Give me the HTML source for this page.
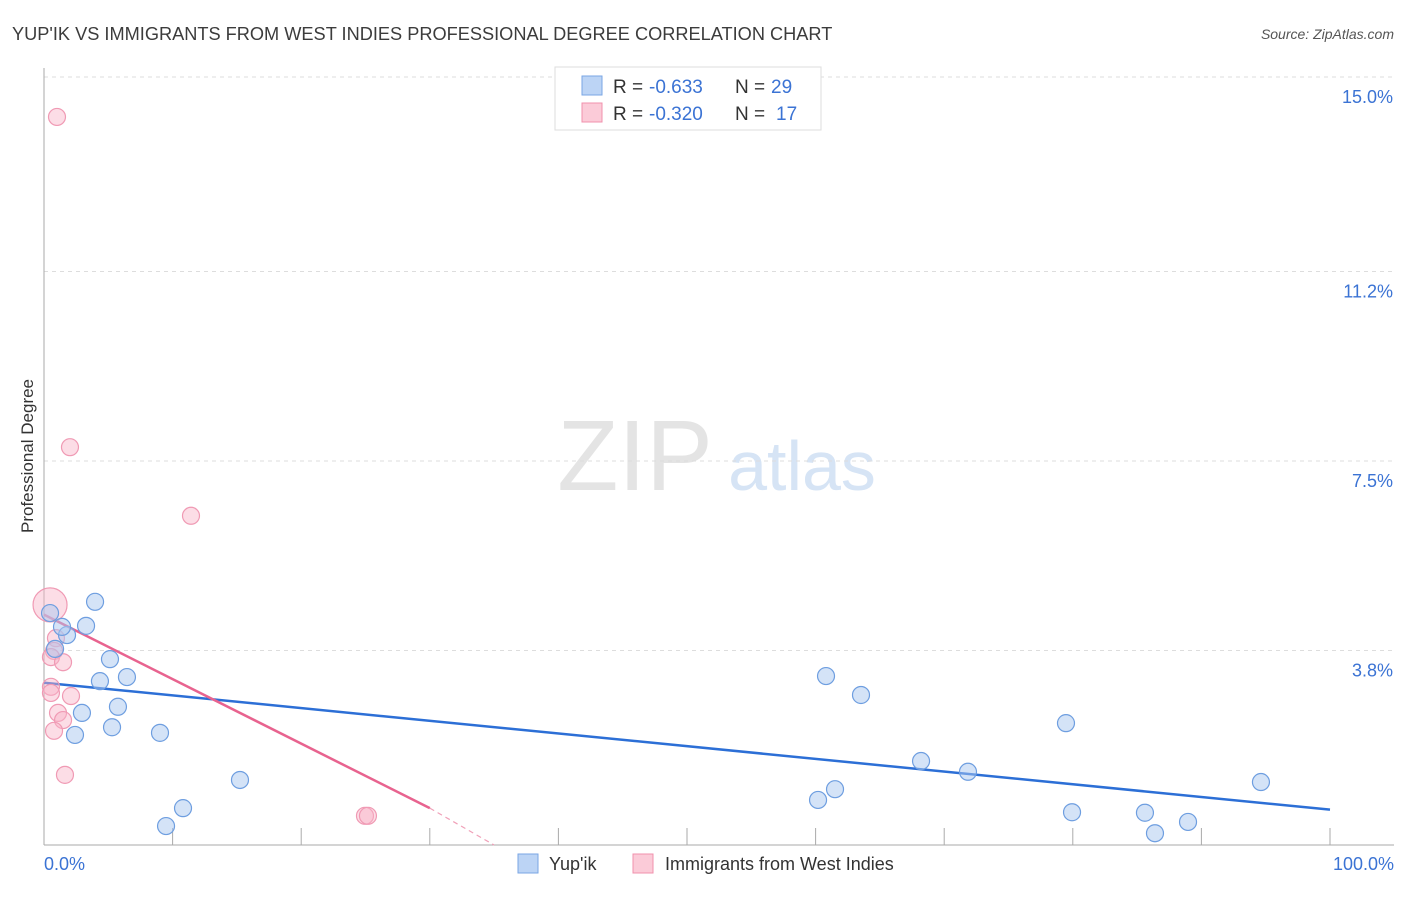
<!DOCTYPE html>
<html><head><meta charset="utf-8"><style>
body{margin:0;background:#fff;font-family:"Liberation Sans",sans-serif}
svg text{font-family:"Liberation Sans",sans-serif}
</style></head><body>
<svg id="chart" width="1406" height="892" xmlns="http://www.w3.org/2000/svg">
<text x="12" y="40" font-size="18.2" fill="#3c3c3c">YUP'IK VS IMMIGRANTS FROM WEST INDIES PROFESSIONAL DEGREE CORRELATION CHART</text>
<text x="1394" y="39" font-size="14" fill="#555" font-style="italic" text-anchor="end">Source: ZipAtlas.com</text>
<text x="0" y="0" transform="translate(33,456) rotate(-90)" font-size="17" fill="#333" text-anchor="middle">Professional Degree</text>
<g><text x="635" y="490" font-size="100" fill="#e4e4e4" font-family="Liberation Serif" text-anchor="middle">ZIP</text><text x="802" y="490" font-size="70" fill="#d6e4f5" text-anchor="middle">atlas</text></g>
<g id="grid"></g><g id="axes"></g><g id="trend"></g><g id="pts"></g>
<g>
<rect x="555" y="67" width="266" height="63" fill="#fff" stroke="#ddd"/>
<rect x="582" y="76" width="20" height="19" fill="#bcd4f5" stroke="#7aa6e4"/>
<text x="613" y="93" font-size="19" fill="#333">R =</text><text x="649" y="93" font-size="19" fill="#3b73d4">-0.633</text>
<text x="735" y="93" font-size="19" fill="#333">N =</text><text x="771" y="93" font-size="19" fill="#3b73d4">29</text>
<rect x="582" y="103" width="20" height="19" fill="#fbcbd8" stroke="#f090ac"/>
<text x="613" y="120" font-size="19" fill="#333">R =</text><text x="649" y="120" font-size="19" fill="#3b73d4">-0.320</text>
<text x="735" y="120" font-size="19" fill="#333">N =</text><text x="776" y="120" font-size="19" fill="#3b73d4">17</text>
</g>
<g>
<rect x="518" y="854" width="20" height="19" fill="#bcd4f5" stroke="#7aa6e4"/>
<text x="549" y="870" font-size="18" fill="#333">Yup'ik</text>
<rect x="633" y="854" width="20" height="19" fill="#fbcbd8" stroke="#f090ac"/>
<text x="665" y="870" font-size="18" fill="#333">Immigrants from West Indies</text>
</g>
</svg>
<script>
const yTicks=[3.8,7.5,11.2,15.0];
const yTickLabels=["3.8%","7.5%","11.2%","15.0%"];
const xTickLabels=["0.0%","100.0%"];
const blueX=[3.97,3.27,1.79,1.40,0.47,0.86,5.13,6.45,4.35,5.75,2.95,5.29,2.41,9.02,15.24,10.81,9.49,60.81,63.53,79.47,68.20,71.85,94.63,61.51,60.19,79.94,85.61,88.96,86.39];
const blueY=[4.75,4.28,4.10,4.26,4.53,3.83,3.63,3.28,3.20,2.70,2.58,2.30,2.15,2.19,1.27,0.72,0.37,3.30,2.93,2.38,1.64,1.43,1.23,1.09,0.88,0.64,0.63,0.45,0.23];
const pinkX=[0.47,1.01,2.02,11.43,0.93,0.78,0.54,1.48,0.54,0.54,2.10,1.09,1.48,0.78,1.63,24.96,25.19];
const pinkY=[4.69,14.22,7.77,6.43,4.04,3.79,3.67,3.57,3.09,2.97,2.91,2.58,2.44,2.23,1.37,0.57,0.57];
const pinkR=[17,8.5,8.5,8.5,8.5,8.5,8.5,8.5,8.5,8.5,8.5,8.5,8.5,8.5,8.5,8.5,8.5];
const blueTrend=[0,3.17,100,0.69];
const pinkTrend=[0,4.50,30,0.72,35,0];
const NS="http://www.w3.org/2000/svg";
const X=v=>44+v*12.86, Y=v=>845-v*51.2;
function mk(t,a,p){const e=document.createElementNS(NS,t);for(const k in a)e.setAttribute(k,a[k]);p.appendChild(e);return e;}
const g=document.getElementById('grid'),ax=document.getElementById('axes'),tr=document.getElementById('trend'),pts=document.getElementById('pts');
yTicks.forEach((t,i)=>{
 const l=mk('line',{x1:44,x2:1394,y1:Y(t),y2:Y(t),stroke:'#ddd','stroke-dasharray':'4,4'},g);
 
 
 const tx=mk('text',{x:1393,y:Y(t)+26,'font-size':18,fill:'#3b73d4','text-anchor':'end'},ax);
 tx.textContent=yTickLabels[i];
 
 
});
const yl=mk('line',{x1:44,x2:44,y1:68,y2:845,stroke:'#aaa'},ax);


const xl=mk('line',{x1:44,x2:1394,y1:845,y2:845,stroke:'#aaa'},ax);


for(let i=0;i<=10;i++){const t=mk('line',{x1:X(i*10),x2:X(i*10),y1:828,y2:845,stroke:'#aaa'},ax);
 
 }
[[0,'start',44],[100,'end',1394]].forEach((d,i)=>{const t=mk('text',{x:d[2],y:870,'font-size':18,fill:'#3b73d4','text-anchor':d[1]},ax);t.textContent=xTickLabels[i];
 
 });
pinkX.forEach((x,i)=>{const c=mk('circle',{cx:X(x),cy:Y(pinkY[i]),r:pinkR[i],fill:'rgba(248,180,200,0.45)',stroke:'#f09ab4','stroke-width':1.2},pts);
 
 });
blueX.forEach((x,i)=>{const c=mk('circle',{cx:X(x),cy:Y(blueY[i]),r:8.5,fill:'rgba(170,200,240,0.5)',stroke:'#6e9ee0','stroke-width':1.2},pts);
 
 });
const bl=mk('line',{x1:X(blueTrend[0]),y1:Y(blueTrend[1]),x2:X(blueTrend[2]),y2:Y(blueTrend[3]),stroke:'#2c6fd6','stroke-width':2.5},tr);


const pl=mk('line',{x1:X(pinkTrend[0]),y1:Y(pinkTrend[1]),x2:X(pinkTrend[2]),y2:Y(pinkTrend[3]),stroke:'#e8638f','stroke-width':2.5},tr);


const pd=mk('line',{x1:X(pinkTrend[2]),y1:Y(pinkTrend[3]),x2:X(pinkTrend[4]),y2:Y(pinkTrend[5]),stroke:'#f0a0b8','stroke-width':1.2,'stroke-dasharray':'5,4'},tr);


</script>
</body></html>
